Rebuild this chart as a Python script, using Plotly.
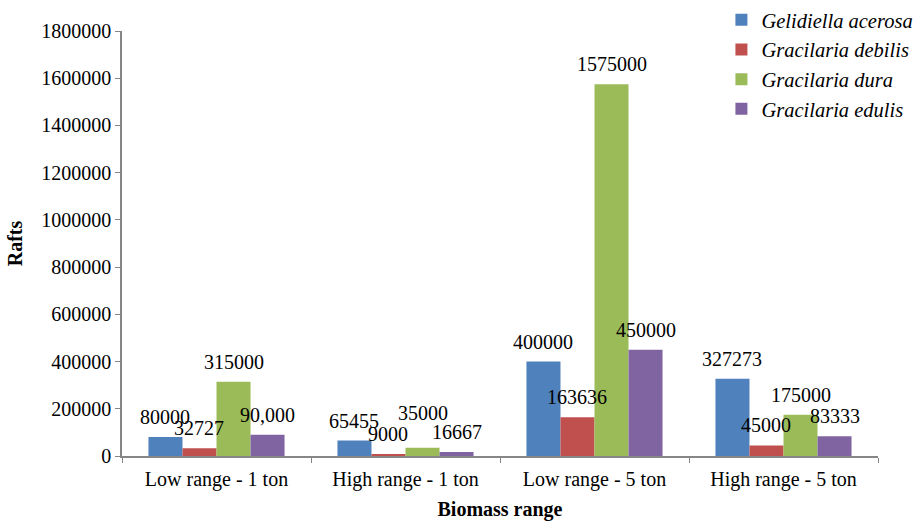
import plotly.graph_objects as go

# Biomass range categories and raft counts per seaweed species
categories = ["Low range - 1 ton", "High range - 1 ton", "Low range - 5 ton", "High range - 5 ton"]
species = ["Gelidiella acerosa", "Gracilaria debilis", "Gracilaria dura", "Gracilaria edulis"]
gelidiella_acerosa = [80000, 65455, 400000, 327273]
gracilaria_debilis = [32727, 9000, 163636, 45000]
gracilaria_dura = [315000, 35000, 1575000, 175000]
gracilaria_edulis = [90000, 16667, 450000, 83333]
y_ticks = [0, 200000, 400000, 600000, 800000, 1000000, 1200000, 1400000, 1600000, 1800000]

series = [gelidiella_acerosa, gracilaria_debilis, gracilaria_dura, gracilaria_edulis]
colors = ["#4F81BD", "#C0504D", "#9BBB59", "#8064A2"]

FONT = "Liberation Serif"
AXIS_GRAY = "#868686"
BARGAP = 0.28

# labels written with a thousands separator
comma_labels = {(3, 0)}
# extra vertical lift (px) for labels moved clear of neighbours
label_lift = {(2, 1): 15}

fig = go.Figure()
for name, vals, col in zip(species, series, colors):
    fig.add_trace(go.Bar(
        x=categories, y=vals, name=f"<i>{name}</i>",
        marker=dict(color=col, line=dict(width=0)),
    ))

bar_w = (1 - BARGAP) / len(series)
annotations = []
for j, vals in enumerate(series):
    for i, v in enumerate(vals):
        txt = f"{v:,}" if (j, i) in comma_labels else f"{v}"
        annotations.append(dict(
            x=i + (j - (len(series) - 1) / 2) * bar_w, y=v, xref="x", yref="y",
            text=txt, showarrow=False, yanchor="bottom", xanchor="center",
            yshift=7 + label_lift.get((j, i), 0),
            font=dict(family=FONT, size=20, color="#000000"),
        ))

fig.update_layout(
    width=919, height=523,
    margin=dict(l=122, r=41, t=31, b=67, autoexpand=False),
    paper_bgcolor="white", plot_bgcolor="white",
    barmode="group", bargap=BARGAP, bargroupgap=0,
    font=dict(family=FONT, size=20, color="#000000"),
    annotations=annotations,
    legend=dict(
        xref="container", yref="container",
        x=0.785, y=1.0, xanchor="left", yanchor="top",
        bgcolor="rgba(0,0,0,0)", font=dict(family=FONT, size=20.5),
        itemwidth=30, traceorder="normal",
    ),
    xaxis=dict(
        showline=True, linecolor=AXIS_GRAY, linewidth=1.5,
        ticks="outside", tickson="boundaries", ticklen=5, tickcolor=AXIS_GRAY,
        showgrid=False, tickfont=dict(family=FONT, size=20),
        ticklabelstandoff=4,
        title=dict(text="<b>Biomass range</b>", font=dict(family=FONT, size=20), standoff=12),
    ),
    yaxis=dict(
        range=[0, 1800000], tickvals=y_ticks, ticktext=[str(t) for t in y_ticks],
        showline=True, linecolor=AXIS_GRAY, linewidth=1.5,
        ticks="outside", ticklen=5, tickcolor=AXIS_GRAY,
        showgrid=False, zeroline=False, tickfont=dict(family=FONT, size=20),
        title=dict(text="<b>Rafts</b>", font=dict(family=FONT, size=20), standoff=13),
    ),
)

fig.write_html("out.html")
